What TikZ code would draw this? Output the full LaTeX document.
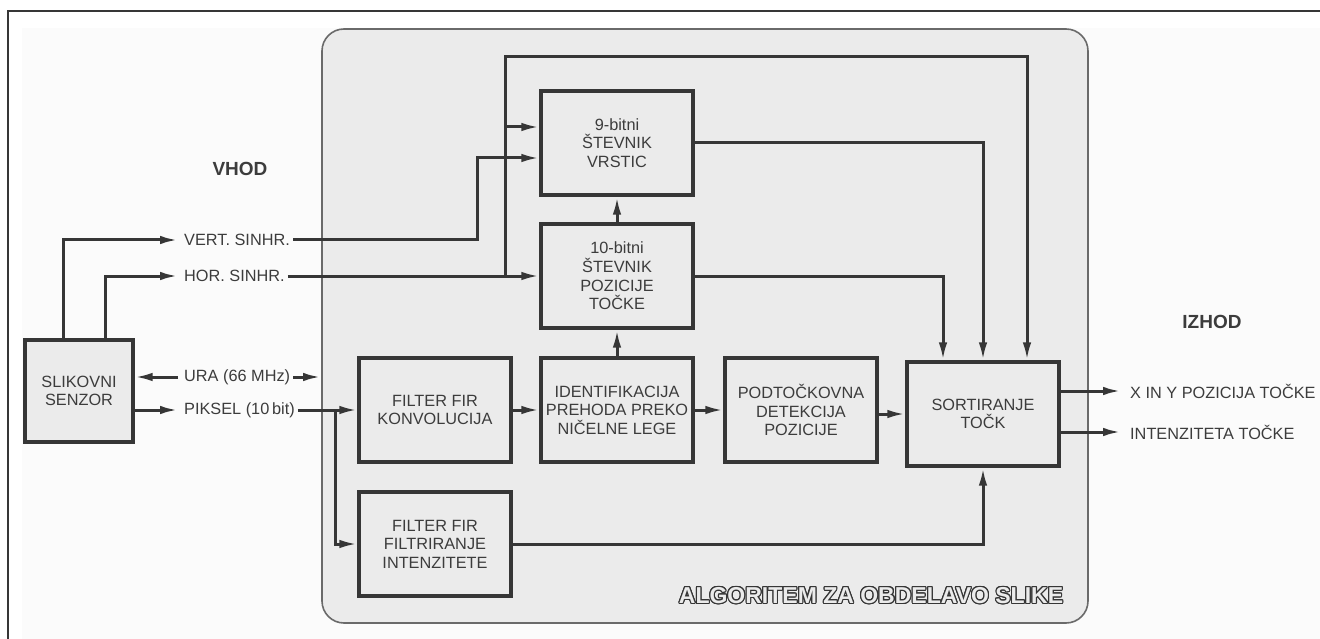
\documentclass[tikz,border=0pt]{standalone}
\usepackage{fontspec}
\setmainfont{Liberation Sans}
\usepackage{contour}
\contourlength{1.1pt}
\usetikzlibrary{arrows.meta,calc}
\definecolor{ink}{HTML}{363636}
\definecolor{txt}{HTML}{3C3C3C}
\definecolor{panel}{HTML}{EBEBEB}
\definecolor{panelline}{HTML}{6A6A6A}
\definecolor{bgc}{HTML}{FBFBFB}
\begin{document}
\begin{tikzpicture}[x=1pt,y=-1pt,
  blk/.style={draw=ink, line width=3.2pt, fill=panel, minimum width=152pt, minimum height=104pt,
    inner sep=0pt, align=center, text=txt, font=\fontsize{16.3}{18.6}\selectfont},
  lbl/.style={anchor=west, inner sep=0pt, text=txt, font=\fontsize{16.3}{18.6}\selectfont},
  wire/.style={draw=ink, line width=3pt},
  arr/.style={wire, -{Latex[length=18pt,width=8.5pt]}},
  ttl/.style={inner sep=0pt, text=txt, font=\bfseries\fontsize{19}{22}\selectfont}]
\useasboundingbox (0,0) rectangle (1320,639);
\fill[white] (0,0) rectangle (1320,639);
\fill[bgc] (22,28) rectangle (1320,639);
\draw[ink, line width=2.2pt] (8,639) -- (8,11) -- (1320,11);
\draw[panelline, line width=1.6pt, fill=panel, rounded corners=22pt] (322,29) rectangle (1088,623);

% blocks
\node[blk, minimum width=108pt, minimum height=102pt] (senz) at (79,391) {SLIKOVNI\\SENZOR};
\node[blk] (konv) at (435,410) {FILTER FIR\\KONVOLUCIJA};
\node[blk] (ident) at (617,410) {IDENTIFIKACIJA\\PREHODA PREKO\\NIČELNE LEGE};
\node[blk] (podt) at (801,410) {PODTOČKOVNA\\DETEKCIJA\\POZICIJE};
\node[blk] (sort) at (983,414) {SORTIRANJE\\TOČK};
\node[blk] (filt) at (435,544) {FILTER FIR\\FILTRIRANJE\\INTENZITETE};
\node[blk] (c10) at (617,276) {10-bitni\\ŠTEVNIK\\POZICIJE\\TOČKE};
\node[blk] (c9) at (617,143) {9-bitni\\ŠTEVNIK\\VRSTIC};

% labels
\node[lbl] (vert) at (184,240) {VERT. SINHR.};
\node[lbl] (hor) at (184,276) {HOR. SINHR.};
\node[lbl] (ura) at (184,377) {URA (66 MHz)};
\node[lbl] (pix) at (184,410) {PIKSEL (10\,bit)};
\node[lbl] (out1) at (1130,391) {X IN Y POZICIJA TOČKE};
\node[lbl] (out2) at (1130,432) {INTENZITETA TOČKE};
\node[ttl] (vhod) at (240,169) {VHOD};
\node[ttl] (izhod) at (1212,322) {IZHOD};
\node[inner sep=0pt, text=panel, font=\bfseries\fontsize{23}{26}\selectfont] (alg) at (871,596)
  {\contour{ink}{ALGORITEM ZA OBDELAVO SLIKE}};

% coordinates
\coordinate (vb) at (477,158);
\coordinate (hb) at (505,276);
\coordinate (hb9) at (505,127);
\coordinate (tr) at (1027,57);
\coordinate (pb) at (335,410);
\coordinate (uraend) at (321,377);

% sensor outputs
\draw[arr] ($(senz.north west)+(40,0)$) |- ([xshift=-6pt]vert.west);
\draw[arr] ($(senz.north west)+(82,0)$) |- ([xshift=-6pt]hor.west);
\draw[arr] ([xshift=-6pt]ura.west) -- (senz.east |- ura.west);
\draw[arr] ([xshift=3pt]ura.east) -- (uraend);
\draw[arr] (senz.east |- pix.west) -- ([xshift=-6pt]pix.west);

% into processing
\draw[arr] ([xshift=3pt]vert.east) -| (vb) -- (vb -| c9.west);
\draw[arr] ([xshift=3pt]hor.east) -- (c10.west);
\draw[arr] (hb) |- (tr) -- (tr |- sort.north);
\draw[arr] (hb9) -- (hb9 -| c9.west);
\draw[arr] ([xshift=3pt]pix.east) -- (konv.west);
\draw[arr] (pb) |- (filt.west);

% internal
\draw[arr] (konv.east) -- (ident.west);
\draw[arr] (ident.east) -- (podt.west);
\draw[arr] (podt.east |- sort.west) -- (sort.west);
\draw[arr] (ident.north) -- (c10.south);
\draw[arr] (c10.north) -- (c9.south);
\draw[arr] (c9.east) -| (sort.north);
\draw[arr] (c10.east) -| ($(sort.north)+(-40,0)$);
\draw[arr] (filt.east) -| (sort.south);

% outputs
\draw[arr] (sort.east |- out1.west) -- ([xshift=-9pt]out1.west);
\draw[arr] (sort.east |- out2.west) -- ([xshift=-9pt]out2.west);
\end{tikzpicture}
\end{document}
